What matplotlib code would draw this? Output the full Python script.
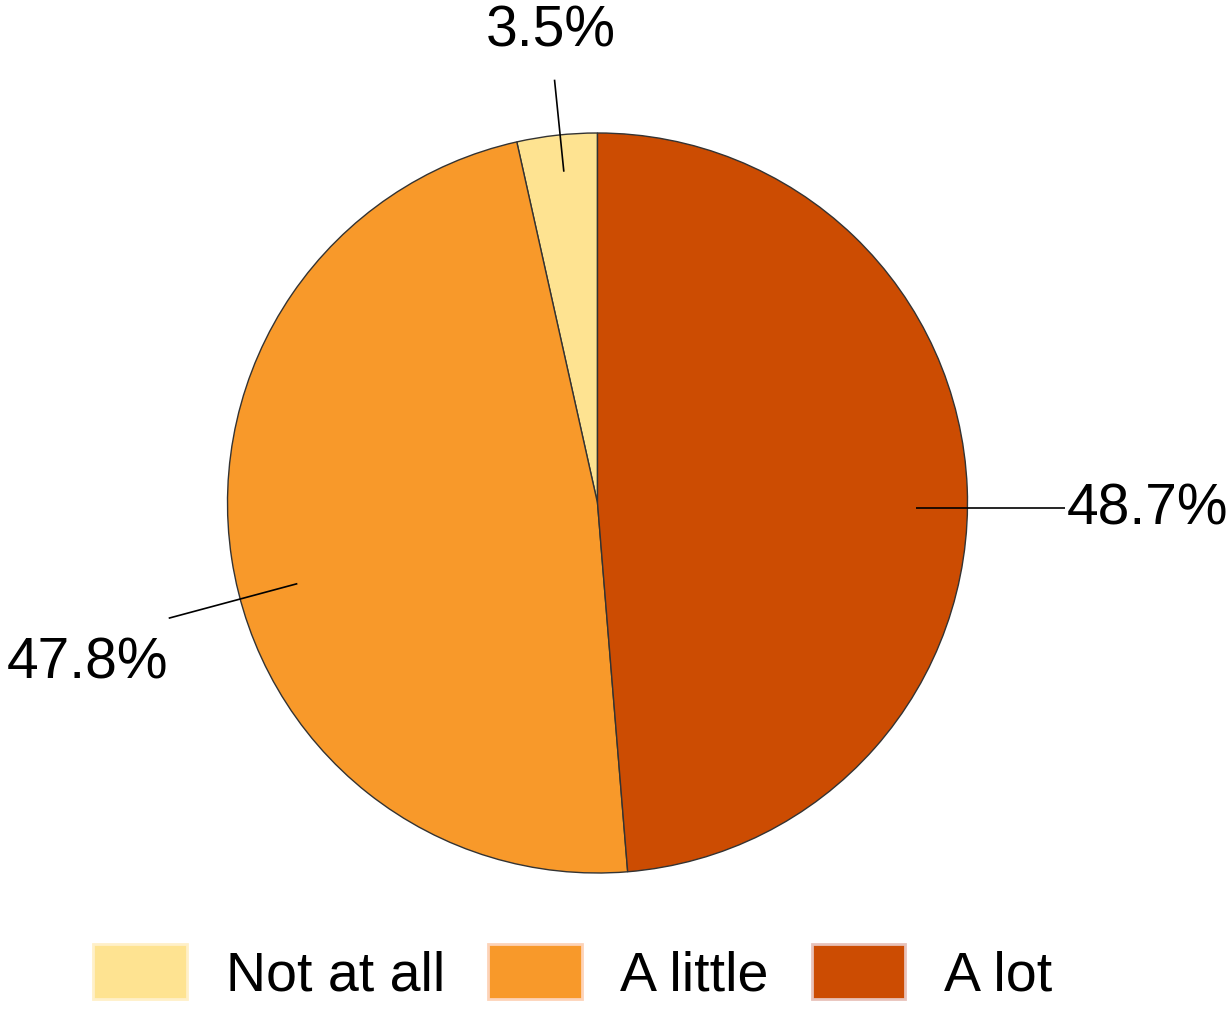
import numpy as np
import matplotlib
matplotlib.use("Agg")
import matplotlib.pyplot as plt
from matplotlib.patches import Patch

plt.rcParams['font.family'] = ['Liberation Sans', 'DejaVu Sans']

categories = ["Not at all", "A little", "A lot"]
values = [3.5, 47.8, 48.7]
labels = ["3.5%", "47.8%", "48.7%"]
colors = ["#FEE391", "#F8992A", "#CC4C02"]
legend_edges = ["#FFF0C8", "#FDD3B8", "#E8C2BA"]

W, H = 1228, 1011
fig = plt.figure(figsize=(W / 100, H / 100), dpi=100)
ax = fig.add_axes([0, 0, 1, 1])

cx, cy, R = 597.5, H - 503, 370
wedges, _ = ax.pie(values, colors=colors, startangle=90, counterclock=True,
                   center=(cx, cy), radius=R, frame=True,
                   wedgeprops=dict(edgecolor="#333333", linewidth=1.0))
ax.set_xlim(0, W)
ax.set_ylim(0, H)
ax.set_aspect('equal')
ax.axis('off')

# label layout: (angle offset deg, inner r frac, outer r frac, text placement)
layout = [
    (-0.5, 0.90, 1.15, "top"),
    (6.4, 0.84, 1.20, "left"),
    (-3.2, 0.86, 1.265, "right"),
]
for w, lab, (doff, r0, r1, place) in zip(wedges, labels, layout):
    mid = np.deg2rad((w.theta1 + w.theta2) / 2 + doff)
    x0, y0 = cx + r0 * R * np.cos(mid), cy + r0 * R * np.sin(mid)
    x1, y1 = cx + r1 * R * np.cos(mid), cy + r1 * R * np.sin(mid)
    if place == "right":
        y1 = y0
    ax.plot([x0, x1], [y0, y1], color="black", lw=1.2, solid_capstyle='butt')
    if place == "top":
        ax.text(x1 - 4, y1 + 48, lab, ha="center", va="center", fontsize=41)
    elif place == "left":
        ax.text(x1, y1 - 45, lab, ha="right", va="center", fontsize=41)
    else:
        ax.text(x1 + 1, y1 - 2, lab, ha="left", va="center", fontsize=41)

handles = [Patch(facecolor=c, edgecolor=e, linewidth=2) for c, e in zip(colors, legend_edges)]
ax.legend(handles, categories, loc="center", bbox_to_anchor=(573 / W, 38 / H),
          ncol=3, frameon=False, fontsize=40, handlelength=1.68, handleheight=1.14,
          handletextpad=0.7, columnspacing=0.78, borderpad=0, borderaxespad=0)

fig.savefig("out.png", dpi=100, facecolor="white")
